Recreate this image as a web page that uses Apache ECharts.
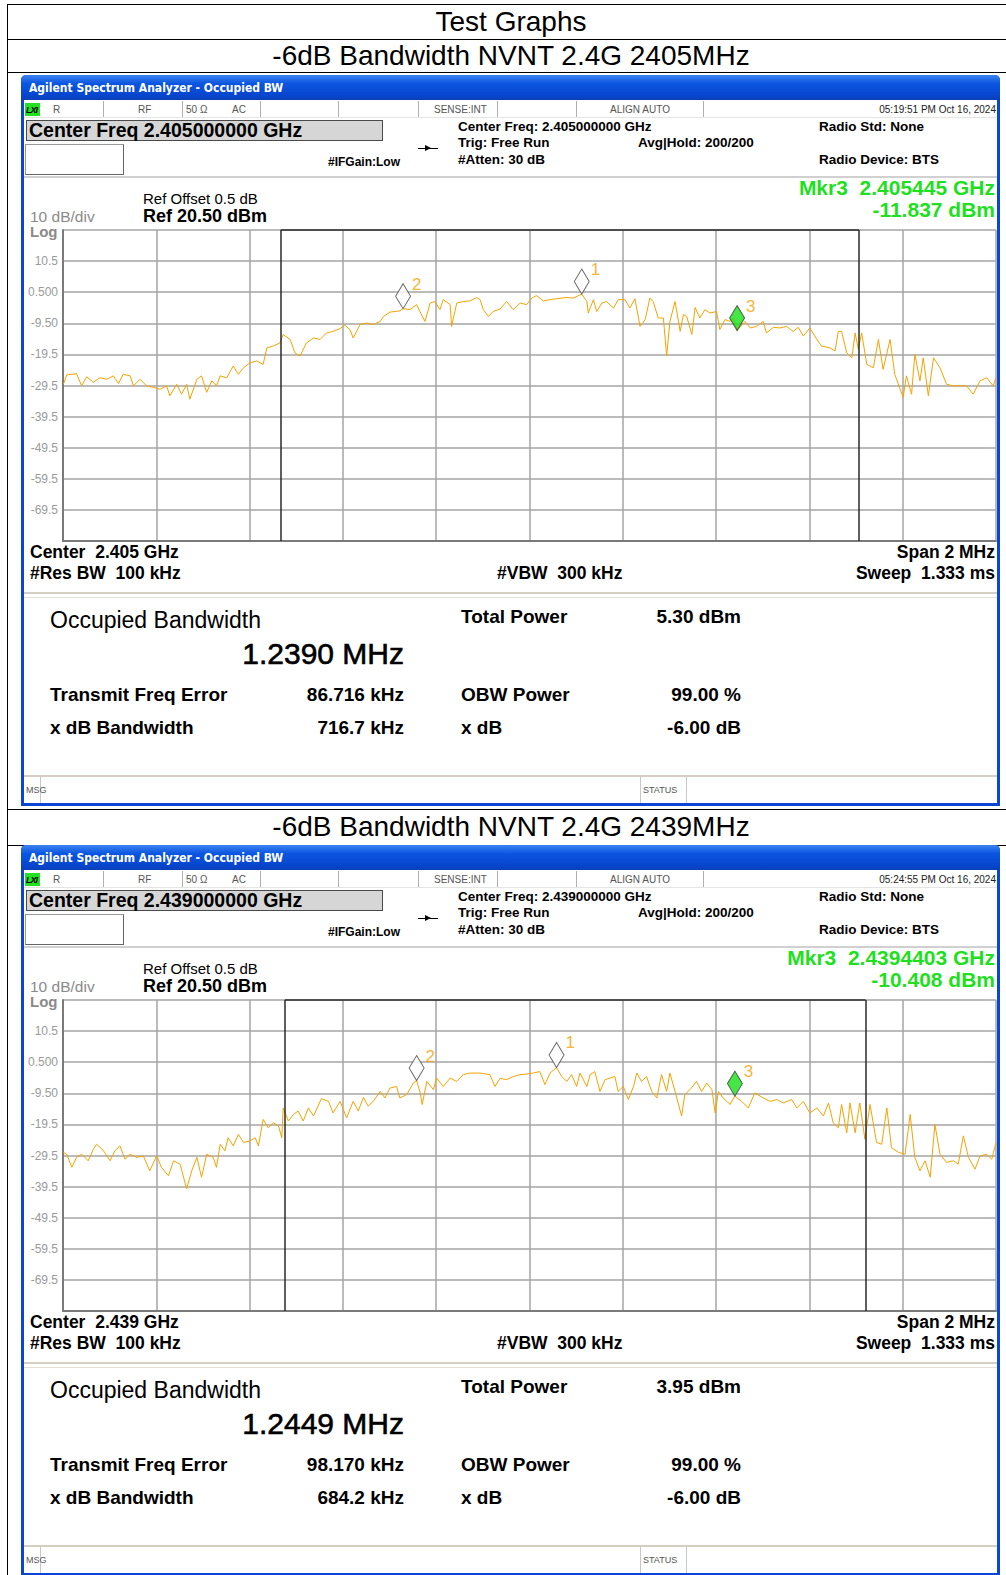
<!DOCTYPE html>
<html>
<head>
<meta charset="utf-8">
<title>Test Graphs</title>
<script src="https://cdn.jsdelivr.net/npm/echarts@6/dist/echarts.min.js"></script>
<style>
  body { margin: 0; background: #fff; font-family: "Liberation Sans", Arial, sans-serif; }
  #page { position: relative; width: 1006px; height: 1575px; overflow: hidden; }
</style>
</head>
<body>
<div id="page"></div>
<script>
// trace 1 : 2405 MHz, offset from centre in kHz and level in dBm
var trace1Freq = [-999, -992, -971, -960, -949, -935, -921, -906, -892, -881, -871, -856, -849, -835, -821, -806, -792, -778, -771, -756,
  -746, -735, -728, -713, -703, -692, -681, -671, -663, -649, -635, -624, -613, -599, -585, -571, -563, -549, -535, -528,
  -513, -503, -492, -478, -463, -449, -435, -421, -406, -396, -385, -378, -363, -349, -335, -320, -313, -299, -278, -271,
  -256, -242, -235, -224, -213, -203, -192, -185, -170, -167, -156, -142, -128, -113, -106, -99, -88, -78, -63, -49,
  -35, -20, -6, 5, 15, 30, 44, 58, 80, 94, 112, 123, 126, 137, 144, 155, 165, 180, 190, 205,
  215, 226, 237, 248, 258, 265, 276, 287, 294, 301, 312, 323, 330, 337, 348, 355, 365, 376, 387, 401,
  408, 419, 430, 437, 445, 462, 473, 487, 501, 508, 523, 537, 551, 565, 576, 587, 601, 616, 626, 644,
  655, 662, 669, 680, 691, 698, 705, 712, 723, 737, 748, 758, 773, 783, 801, 808, 819, 826, 837, 844,
  855, 866, 880, 894, 908, 923, 937, 951, 966, 980, 994, 1000];
var trace1Level = [-29.1, -26.1, -25.7, -29.6, -26.7, -28.5, -27.0, -27.5, -26.4, -28.9, -25.9, -26.4, -29.6, -27.5, -29.6, -30.1, -30.7, -29.6, -32.8, -29.1,
  -32.3, -29.1, -33.9, -27.5, -26.4, -31.7, -28.0, -29.6, -26.4, -27.0, -23.2, -25.9, -23.8, -22.2, -21.6, -22.7, -17.4, -16.8, -15.8, -13.1,
  -14.7, -19.0, -20.0, -15.8, -14.2, -14.7, -12.6, -12.1, -11.2, -10.1, -11.5, -14.2, -9.9, -9.4, -9.9, -8.9, -7.3, -5.9, -5.5, -4.8,
  -5.1, -3.5, -5.7, -8.9, -3.0, -2.5, -5.1, -1.9, -3.5, -10.5, -3.0, -2.5, -2.3, -1.2, -1.9, -5.1, -7.3, -5.7, -4.9, -2.5,
  -5.1, -3.0, -3.5, -1.4, -0.6, -2.3, -1.9, -1.6, -1.2, -1.4, -0.1, -2.5, -6.2, -1.9, -5.7, -3.0, -2.5, -4.6, -1.9, -1.9,
  -4.6, -1.6, -10.5, -8.3, -1.4, -2.5, -7.8, -7.8, -20.0, -8.9, -2.5, -12.1, -6.7, -7.3, -13.1, -4.4, -7.8, -5.1, -6.2, -5.7,
  -11.5, -8.3, -8.9, -7.8, -11.8, -8.9, -11.0, -10.5, -8.9, -12.6, -10.8, -11.0, -10.5, -12.1, -10.8, -13.6, -11.0, -14.7, -16.8, -17.4,
  -18.4, -12.1, -12.1, -19.0, -20.6, -12.6, -17.9, -12.6, -22.7, -23.8, -14.7, -24.3, -14.7, -25.9, -33.3, -26.4, -32.3, -19.5, -28.0, -20.6,
  -32.8, -20.6, -23.8, -29.1, -29.6, -29.6, -29.6, -32.3, -28.0, -27.0, -29.6, -27.0];

// trace 2 : 2439 MHz
var trace2Freq = [-999, -992, -981, -971, -960, -946, -935, -928, -914, -899, -889, -878, -867, -856, -842, -828, -814, -799, -789, -774,
  -763, -749, -735, -724, -713, -703, -692, -678, -671, -663, -653, -646, -635, -624, -613, -599, -588, -581, -571, -560,
  -549, -538, -531, -528, -517, -506, -496, -485, -474, -463, -446, -431, -421, -406, -392, -378, -367, -356, -346, -335,
  -320, -310, -299, -285, -278, -263, -249, -242, -235, -230, -220, -206, -199, -185, -170, -156, -142, -128, -106, -85,
  -74, -63, -49, -35, -20, -6, 8, 22, 33, 44, 58, 69, 80, 90, 101, 108, 123, 130, 140, 151,
  162, 173, 183, 190, 201, 212, 223, 230, 240, 251, 262, 273, 283, 294, 301, 312, 326, 333, 344, 358,
  369, 380, 391, 398, 405, 415, 430, 440, 455, 469, 483, 501, 516, 530, 544, 562, 573, 587, 601, 616,
  630, 641, 651, 662, 669, 680, 687, 698, 708, 719, 730, 744, 755, 766, 776, 791, 805, 816, 826, 837,
  848, 859, 869, 880, 894, 909, 919, 930, 941, 955, 966, 980, 991, 1000];
var trace2Level = [-28.5, -29.1, -33.3, -30.1, -29.1, -31.2, -27.5, -25.9, -27.8, -31.2, -28.0, -26.4, -30.7, -29.1, -30.1, -29.6, -34.4, -29.6, -33.3, -36.0,
  -31.2, -32.3, -40.2, -34.4, -30.1, -36.5, -29.1, -30.1, -33.3, -25.9, -28.0, -23.8, -26.4, -22.7, -25.3, -24.8, -23.8, -26.4, -17.9, -20.6,
  -19.0, -20.0, -23.8, -14.2, -18.4, -16.3, -15.2, -18.4, -14.2, -16.8, -11.2, -12.1, -15.8, -12.1, -17.4, -12.1, -15.2, -10.8, -13.6, -12.1,
  -8.9, -11.0, -7.8, -7.3, -11.0, -9.9, -6.2, -5.4, -8.9, -13.1, -5.7, -8.3, -4.6, -7.3, -4.6, -5.7, -3.5, -3.0, -3.0, -3.5,
  -7.3, -4.7, -5.1, -4.1, -3.5, -3.3, -3.0, -2.5, -6.7, -3.0, -1.2, -4.1, -5.7, -3.5, -7.3, -3.0, -7.3, -3.5, -2.5, -8.9,
  -5.1, -4.6, -4.1, -8.9, -7.3, -11.5, -7.3, -3.0, -5.7, -4.1, -8.9, -11.0, -3.5, -8.9, -3.0, -8.9, -16.8, -9.9, -8.3, -5.7,
  -8.9, -6.2, -8.3, -15.8, -8.9, -11.0, -13.1, -10.4, -12.1, -14.2, -9.4, -11.0, -12.1, -11.5, -12.6, -11.5, -14.2, -12.1, -15.8, -14.2,
  -16.8, -12.6, -19.0, -20.6, -13.1, -22.2, -12.6, -22.2, -12.6, -24.3, -13.1, -25.3, -25.9, -14.2, -27.0, -28.5, -29.1, -16.3, -30.1, -34.4,
  -31.2, -36.5, -19.5, -29.1, -31.7, -31.2, -32.3, -23.2, -30.1, -33.9, -29.6, -29.1, -30.7, -25.3];

// markers 1, 2, 3 (kHz from centre, dBm)
var markerNames = ['1', '2', '3'];
var markers1Freq = [112, -271, 445];
var markers1Level = [-0.1, -4.8, -11.837];
var markers2Freq = [58, -242, 440.3];
var markers2Level = [-1.2, -5.4, -10.408];

// occupied bandwidth (kHz) and transmit freq error (kHz)
var obw1 = [1239.0, 86.716];
var obw2 = [1244.9, 98.170];

// header / readout texts per screen
var head1 = ['Center Freq 2.405000000 GHz', 'Center Freq: 2.405000000 GHz', '05:19:51 PM Oct 16, 2024', 'Mkr3  2.405445 GHz', '-11.837 dBm', 'Center  2.405 GHz'];
var head2 = ['Center Freq 2.439000000 GHz', 'Center Freq: 2.439000000 GHz', '05:24:55 PM Oct 16, 2024', 'Mkr3  2.4394403 GHz', '-10.408 dBm', 'Center  2.439 GHz'];
var result1 = ['1.2390 MHz', '5.30 dBm', '86.716 kHz', '99.00 %', '716.7 kHz', '-6.00 dB'];
var result2 = ['1.2449 MHz', '3.95 dBm', '98.170 kHz', '99.00 %', '684.2 kHz', '-6.00 dB'];

var page = document.getElementById('page');
var FONT = '"Liberation Sans", Arial, sans-serif';

function box(parent, x, y, w, h, css) {
  var d = document.createElement('div');
  d.style.cssText = 'position:absolute;left:' + x + 'px;top:' + y + 'px;width:' + w + 'px;height:' + h + 'px;' + (css || '');
  parent.appendChild(d);
  return d;
}

// text centred vertically on yc; a = 'r' right edge at x, 'c' centred on x
function txt(parent, s, x, yc, size, o) {
  o = o || {};
  var d = document.createElement('div');
  var tr = o.a === 'r' ? 'transform:translateX(-100%);' : (o.a === 'c' ? 'transform:translateX(-50%);' : '');
  d.style.cssText = 'position:absolute;white-space:pre;left:' + x + 'px;top:' + (yc - size * 0.56) + 'px;font-size:' + size +
    'px;line-height:' + (size * 1.12) + 'px;font-weight:' + (o.w || 400) + ';color:' + (o.c || '#000') +
    ';font-family:' + (o.f || FONT) + ';' + tr + (o.css || '');
  d.textContent = s;
  parent.appendChild(d);
  return d;
}

// table frame
box(page, 7, 4, 1000, 1, 'background:#000');
box(page, 7, 39, 1000, 1, 'background:#000');
box(page, 7, 72, 1000, 1, 'background:#000');
box(page, 7, 809, 1000, 1, 'background:#000');
box(page, 7, 845, 1000, 1, 'background:#000');
box(page, 7, 4, 1, 1571, 'background:#000');
txt(page, 'Test Graphs', 511, 22, 28, {a: 'c'});
txt(page, '-6dB Bandwidth NVNT 2.4G 2405MHz', 511, 56, 28, {a: 'c'});
txt(page, '-6dB Bandwidth NVNT 2.4G 2439MHz', 511, 827, 28, {a: 'c'});

function buildPanel(dy, freq, level, mkF, mkL, obw, head, result) {
  var p = box(page, 0, dy, 1006, 740, '');
  // blue window frame and title bar
  box(p, 21, 75, 979, 731, 'background:#0b45d3;border-radius:5px 5px 0 0');
  box(p, 21, 75, 979, 25, 'border-radius:5px 5px 0 0;background:linear-gradient(#3c83f0,#0a55e0 35%,#0846cf 80%,#0a3fb8)');
  txt(p, 'Agilent Spectrum Analyzer - Occupied BW', 29, 89, 12, {w: 700, c: '#fff', f: '"Liberation Sans Narrow","DejaVu Sans Condensed",sans-serif'});
  box(p, 24, 100, 973, 703, 'background:#fff');

  // status line
  var seps = [103, 182, 260, 338, 418, 497, 576, 703];
  seps.forEach(function (x) { box(p, x, 101, 1, 16, 'background:#b0b0b0'); });
  box(p, 24, 117, 973, 1, 'background:#e4e4e4');
  box(p, 25, 103, 15, 13, 'background:#22e022');
  txt(p, 'LXI', 26, 110, 9, {w: 700, css: 'font-style:italic;letter-spacing:-1px'});
  var small = {c: '#555'};
  txt(p, 'R', 53, 110, 10, small);
  txt(p, 'RF', 138, 110, 10, small);
  txt(p, '50 \u03a9', 186, 110, 10, small);
  txt(p, 'AC', 232, 110, 10, small);
  txt(p, 'SENSE:INT', 434, 110, 10, small);
  txt(p, 'ALIGN AUTO', 640, 110, 10, {c: '#555', a: 'c'});
  txt(p, head[2], 996, 110, 10, {c: '#222', a: 'r'});

  // center freq box and setup lines
  box(p, 26, 120, 355, 19, 'background:#d6d6d6;border:1px solid #4a4a4a');
  txt(p, head[0], 29, 131, 19.5, {w: 700});
  box(p, 25, 144, 97, 29, 'background:#fff;border:1px solid #999;border-right-color:#666;border-bottom-color:#666');
  txt(p, '#IFGain:Low', 328, 163, 12, {w: 700});
  box(p, 418, 148, 20, 1, 'background:#000');
  box(p, 425, 145, 0, 0, 'border-left:6px solid #000;border-top:3px solid transparent;border-bottom:3px solid transparent;width:0;height:0');
  var hb = {w: 700};
  txt(p, head[1], 458, 127, 13.5, hb);
  txt(p, 'Trig: Free Run', 458, 143, 13.5, hb);
  txt(p, '#Atten: 30 dB', 458, 160, 13.5, hb);
  txt(p, 'Avg|Hold: 200/200', 638, 143, 13.5, hb);
  txt(p, 'Radio Std: None', 819, 127, 13.5, hb);
  txt(p, 'Radio Device: BTS', 819, 160, 13.5, hb);
  box(p, 24, 176, 973, 2, 'background:#d0d0d0');

  // reference / marker readout
  txt(p, 'Ref Offset 0.5 dB', 143, 199, 15);
  txt(p, 'Ref 20.50 dBm', 143, 216, 18, {w: 700});
  txt(p, '10 dB/div', 30, 217, 15.5, {c: '#8a8a8a'});
  txt(p, 'Log', 30, 232, 15, {w: 700, c: '#8a8a8a'});
  txt(p, head[3], 995, 188, 21, {w: 700, c: '#1ee01e', a: 'r'});
  txt(p, head[4], 995, 210, 21, {w: 700, c: '#1ee01e', a: 'r'});

  // trace chart
  var cd = box(p, 24, 222, 973, 330, '');
  var chart = echarts.init(cd, null, {renderer: 'svg'});
  var lo = obw[1] - obw[0] / 2, hi = obw[1] + obw[0] / 2;
  chart.setOption({
    animation: false,
    grid: {left: 39, top: 8, width: 933, height: 311},
    xAxis: {
      type: 'value', min: -1000, max: 1000, interval: 200,
      axisLine: {show: true, onZero: false, lineStyle: {color: '#7a7a7a', width: 2}},
      axisTick: {show: false}, axisLabel: {show: false},
      splitLine: {lineStyle: {color: '#a4a4a4', width: 1.5}}
    },
    yAxis: {
      type: 'value', min: -79.5, max: 20.5, interval: 10,
      axisLine: {show: true, onZero: false, lineStyle: {color: '#7a7a7a', width: 2}},
      axisTick: {show: false},
      axisLabel: {
        showMinLabel: false, showMaxLabel: false, color: '#9a9a9a', fontSize: 12, margin: 5, fontFamily: FONT,
        formatter: function (v) { return v.toPrecision(3); }
      },
      splitLine: {lineStyle: {color: '#a4a4a4', width: 1.5}}
    },
    series: [{
      type: 'line', silent: true, symbol: 'none',
      data: freq.map(function (f, i) { return [f, level[i]]; }),
      lineStyle: {color: '#f5a300', width: 1},
      markLine: {
        silent: true, symbol: 'none', label: {show: false},
        lineStyle: {color: '#2a2a2a', width: 1.5, type: 'solid'},
        data: [{xAxis: lo}, {xAxis: hi}, [{coord: [lo, 20.5]}, {coord: [hi, 20.5]}]]
      }
    }, {
      type: 'scatter', silent: true, z: 5,
      symbol: 'diamond', symbolSize: [15, 25], symbolOffset: [0, -12.5],
      itemStyle: {color: '#fff', borderColor: '#444', borderWidth: 1},
      label: {show: true, position: 'right', distance: 1, offset: [0, -12], formatter: '{b}', color: '#f5a000', fontSize: 17, fontFamily: FONT},
      data: mkF.map(function (f, i) {
        return {name: markerNames[i], value: [f, mkL[i]], itemStyle: i === 2 ? {color: '#16e016', borderColor: '#333'} : {}};
      })
    }]
  });

  var bb = {w: 700};
  txt(p, head[5], 30, 553, 17.5, bb);
  txt(p, 'Span 2 MHz', 995, 553, 17.5, {w: 700, a: 'r'});
  txt(p, '#Res BW  100 kHz', 30, 574, 17.5, bb);
  txt(p, '#VBW  300 kHz', 497, 574, 17.5, bb);
  txt(p, 'Sweep  1.333 ms', 995, 574, 17.5, {w: 700, a: 'r'});
  box(p, 24, 592, 973, 2, 'background:#d3cfc3');
  box(p, 24, 597, 973, 1, 'background:#e2dfd6');

  // results
  txt(p, 'Occupied Bandwidth', 50, 621, 23);
  txt(p, result[0], 404, 654, 30, {a: 'r', css: '-webkit-text-stroke:0.6px #000'});
  txt(p, 'Total Power', 461, 617, 19, bb);
  txt(p, result[1], 741, 617, 19, {w: 700, a: 'r'});
  txt(p, 'Transmit Freq Error', 50, 695, 19, bb);
  txt(p, result[2], 404, 695, 19, {w: 700, a: 'r'});
  txt(p, 'OBW Power', 461, 695, 19, bb);
  txt(p, result[3], 741, 695, 19, {w: 700, a: 'r'});
  txt(p, 'x dB Bandwidth', 50, 728, 19, bb);
  txt(p, result[4], 404, 728, 19, {w: 700, a: 'r'});
  txt(p, 'x dB', 461, 728, 19, bb);
  txt(p, result[5], 741, 728, 19, {w: 700, a: 'r'});

  // message bar
  box(p, 24, 775, 973, 2, 'background:#d3cfc3');
  [40, 640, 686].forEach(function (x) { box(p, x, 777, 1, 26, 'background:#c8c8c8'); });
  txt(p, 'MSG', 26, 790, 9, {c: '#555'});
  txt(p, 'STATUS', 643, 790, 9, {c: '#555'});
}

buildPanel(0, trace1Freq, trace1Level, markers1Freq, markers1Level, obw1, head1, result1);
buildPanel(770, trace2Freq, trace2Level, markers2Freq, markers2Level, obw2, head2, result2);
</script>
</body>
</html>
